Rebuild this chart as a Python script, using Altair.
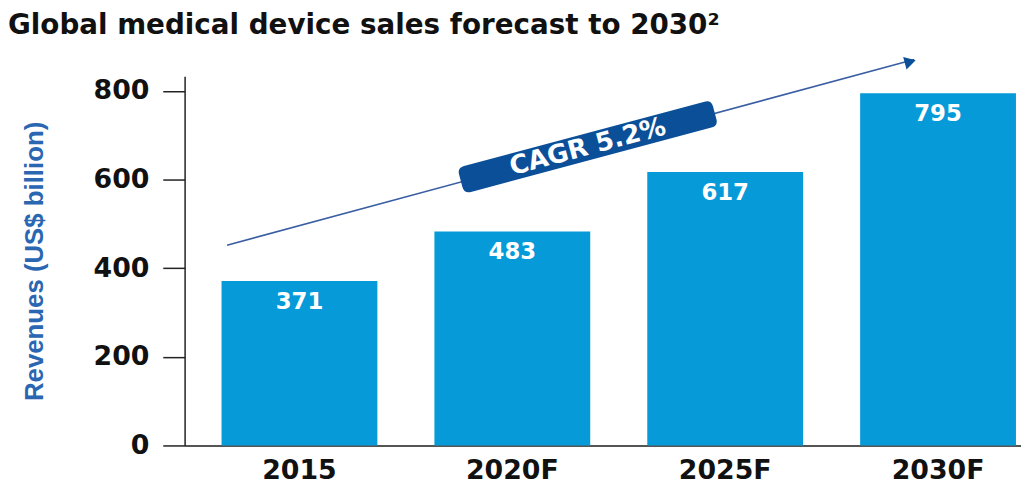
import altair as alt
import pandas as pd

# ---- data ----
years = ["2015", "2020F", "2025F", "2030F"]
revenues = [371, 483, 617, 795]
value_labels = ["371", "483", "617", "795"]
y_ticks = [0, 200, 400, 600, 800]

# CAGR arrow (category anchor + value)
arrow_from_cat = ["2015"]
arrow_from_val = [452]
arrow_to_cat = ["2030F"]
arrow_to_val = [871]
arrowhead_val = [866]
cagr_cat = ["2020F"]
cagr_val = [674]
cagr_text = ["CAGR 5.2%"]

TITLE = "Global medical device sales forecast to 2030\u00b2"
BAR = "#069ad9"
DARK = "#0c4f99"
LINE = "#3a5ea3"

bars_df = pd.DataFrame({"year": years, "rev": revenues, "lab": value_labels})
arrow_df = pd.DataFrame({"x1": arrow_from_cat, "y1": arrow_from_val,
                         "x2": arrow_to_cat, "y2": arrow_to_val})
head_df = pd.DataFrame({"x": arrow_to_cat, "y": arrowhead_val})
cagr_df = pd.DataFrame({"x": cagr_cat, "y": cagr_val, "t": cagr_text})

xscale = alt.Scale(domain=years, paddingInner=0.268, paddingOuter=0.0986, align=0.88)
yscale = alt.Scale(domain=[0, 833], nice=False)

xenc = alt.X("year:N", scale=xscale, sort=years,
             axis=alt.Axis(title=None, labelAngle=0, ticks=False, tickSize=0,
                           labelPadding=12, domainColor="#555", domainWidth=2,
                           labelFont="DejaVu Sans", labelFontWeight="bold",
                           labelFontSize=27, labelColor="#111"))
yenc = alt.Y("rev:Q", scale=yscale,
             axis=alt.Axis(values=y_ticks, grid=False, tickSize=22, tickWidth=1.5,
                           tickColor="#222", domainColor="#222", domainWidth=1.5,
                           labelPadding=14, labelFont="DejaVu Sans",
                           labelFontWeight="bold", labelFontSize=27, labelColor="#111",
                           title="Revenues (US$ billion)",
                           titleFont="Liberation Sans", titleFontSize=26,
                           titleFontWeight="bold", titleColor="#2a66b1",
                           titleX=-143, titleY=186, titleAngle=270,
                           titleAlign="center", titleBaseline="alphabetic"))

bars = alt.Chart(bars_df).mark_bar(color=BAR).encode(x=xenc, y=yenc)

labels = alt.Chart(bars_df).mark_text(
    color="white", font="DejaVu Sans", fontWeight="bold", fontSize=23,
    baseline="middle", dy=21
).encode(x=alt.X("year:N", scale=xscale, sort=years),
         y=alt.Y("rev:Q", scale=yscale), text="lab:N")

arrow = alt.Chart(arrow_df).mark_rule(
    color=LINE, strokeWidth=1.6, xOffset=-73, x2Offset=-24
).encode(x=alt.X("x1:N", scale=xscale, sort=years),
         x2="x2:N",
         y=alt.Y("y1:Q", scale=yscale), y2="y2:Q")

head = alt.Chart(head_df).mark_point(
    shape="triangle-right", filled=True, size=170, angle=345,
    color=DARK, opacity=1, xOffset=-28
).encode(x=alt.X("x:N", scale=xscale, sort=years),
         y=alt.Y("y:Q", scale=yscale))

BOX_PATH = ("M -0.947 -0.102 L 0.947 -0.102 Q 1 -0.102 1 -0.049 L 1 0.049 "
            "Q 1 0.102 0.947 0.102 L -0.947 0.102 Q -1 0.102 -1 0.049 "
            "L -1 -0.049 Q -1 -0.102 -0.947 -0.102 Z")
box = alt.Chart(cagr_df).mark_point(
    shape=BOX_PATH, filled=True, size=70225, angle=345, color=DARK,
    opacity=1, xOffset=76
).encode(x=alt.X("x:N", scale=xscale, sort=years),
         y=alt.Y("y:Q", scale=yscale))

cagr = alt.Chart(cagr_df).mark_text(
    color="white", font="DejaVu Sans", fontWeight="bold", fontSize=26,
    angle=345, baseline="middle", align="center", xOffset=76
).encode(x=alt.X("x:N", scale=xscale, sort=years),
         y=alt.Y("y:Q", scale=yscale), text="t:N")

chart = alt.layer(bars, labels, arrow, head, box, cagr).properties(
    width=843, height=372,
    padding={"left": 178, "top": 67, "right": 0, "bottom": 44},
    autosize=alt.AutoSizeParams(type="none"),
    title=alt.TitleParams(TITLE, anchor="start", frame="group", dx=-178, dy=-13,
                          font="DejaVu Sans", fontWeight="bold", fontSize=28,
                          color="#111")
).configure_view(stroke=None)

chart.save("out.html", embed_options={"renderer": "svg", "actions": False})
